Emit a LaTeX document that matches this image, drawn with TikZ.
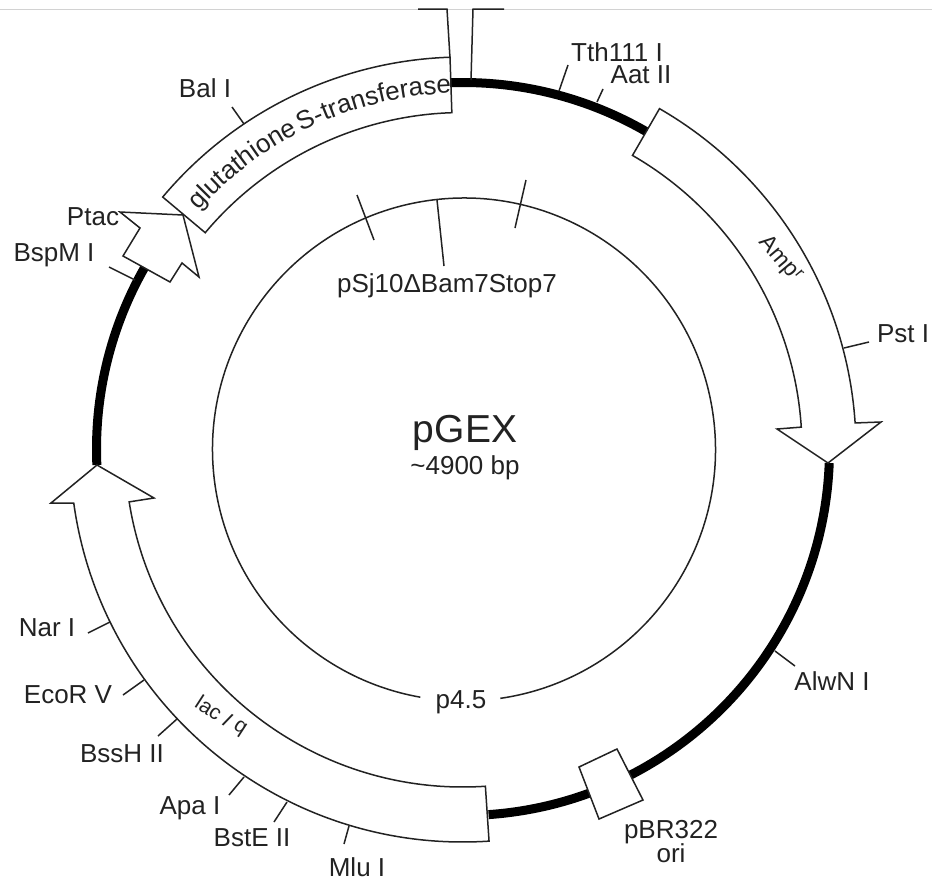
\documentclass[tikz,border=0pt]{standalone}
\usepackage{fontspec}
\setmainfont{Liberation Sans}
\newfontfamily\gstfont[WordSpace=0.45]{Liberation Sans}
\usetikzlibrary{decorations.text}
\definecolor{ink}{HTML}{222222}
\tikzset{
  x=1pt,y=1pt,
  thin line/.style={line width=1.5pt,draw=ink},
  backbone/.style={line width=9pt,draw=black},
  feature/.style={line width=1.5pt,draw=ink,fill=white,line join=miter},
  lbl/.style={inner sep=0pt,text=ink,font=\fontsize{26}{29}\selectfont,align=center},
}
\newcommand{\sitetick}[3]{\coordinate (#1a) at #2; \coordinate (#1b) at #3; \draw[thin line] (#1a) -- (#1b);}
\begin{document}
\begin{tikzpicture}
\useasboundingbox (0,0) rectangle (932,-881);
\fill[white] (0,0) rectangle (932,-881);
\draw[line width=0.8pt,draw=gray!35] (0,-9) -- (932,-9);

% inner circle
\begin{scope}[shift={(464,-449.5)}]
\draw[thin line] (278.3:251.5) arc[start angle=278.3,end angle=620,radius=251.5];
\end{scope}

\begin{scope}[shift={(463,-449)}]
% backbone
\draw[backbone] (91.9:366.5) arc[start angle=91.9,end angle=60,radius=366.5];
\draw[backbone] (-2.2:366.5) arc[start angle=-2.2,end angle=-86,radius=366.5];
\draw[backbone] (182.5:366.5) arc[start angle=182.5,end angle=150.3,radius=366.5];
% GST
\draw[feature] (91.9:392) arc[start angle=91.9,end angle=140,radius=392]
  -- (140:336.5) arc[start angle=140,end angle=91.9,radius=336.5] -- cycle;
% Amp
\draw[feature] (60:393) arc[start angle=60,end angle=3.8,radius=393]
  -- (881-463,-422+449) coordinate (ampb1) -- (828-463,-463+449) coordinate (amptip) -- (777-463,-429+449) coordinate (ampb2)
  -- (3.7:339) arc[start angle=3.7,end angle=60,radius=339] -- cycle;
% lacI
\draw[feature] (-86.2:393) arc[start angle=-86.2,end angle=-172.1,radius=393]
  -- (51-463,-503+449) -- (97-463,-465+449) -- (154-463,-498+449)
  -- (-171:338) arc[start angle=-171,end angle=-86.2,radius=338] -- cycle;
% GST label
\path[postaction={decorate,decoration={text along path,
  text={|\gstfont\fontsize{26}{29}\selectfont\color{ink}|glutathione S-transferase},text align=left}}]
  (138:356) arc[start angle=138,end angle=90,radius=356];
\end{scope}

% ori box
\draw[feature] (579,-767) -- (617,-749) -- (643,-800) -- (599,-819) -- cycle;
% Ptac arrow
\draw[feature] (183,-215) -- (120,-212) -- (140,-228) -- (123,-256) -- (170,-282) -- (182,-263) -- (199,-277) -- cycle;

% top brackets
\coordinate (tl0) at (418,-9); \coordinate (tl1) at (447,-9); \coordinate (tl2) at (450,-58);
\coordinate (tr0) at (504,-9); \coordinate (tr1) at (473,-9); \coordinate (tr2) at (471,-80);
\draw[thin line] (tl0) -- (tl1) -- (tl2);
\draw[thin line] (tr0) -- (tr1) -- (tr2);

% site ticks
\sitetick{bal}{(244,-124)}{(232,-107)}
\sitetick{tth}{(559,-91)}{(568,-65)}
\sitetick{aat}{(597,-102)}{(603,-89)}
\sitetick{pst}{(844,-348)}{(869,-342)}
\sitetick{alw}{(775,-651)}{(795,-666)}
\sitetick{nar}{(110,-622)}{(88,-633)}
\sitetick{eco}{(144,-680)}{(123,-695)}
\sitetick{bss}{(177,-719)}{(158,-736)}
\sitetick{apa}{(244,-777)}{(229,-795)}
\sitetick{bst}{(287,-802)}{(274,-822)}
\sitetick{mlu}{(349,-826)}{(344,-844)}
\sitetick{bsp}{(135,-280)}{(109,-267)}
\sitetick{ia}{(357,-195)}{(374,-240)}
\sitetick{ib}{(437,-200)}{(444,-266)}
\sitetick{ic}{(526,-180)}{(515,-228)}

% labels
\node[lbl] (Lbal) at (205,-88) {Bal I};
\node[lbl] (Ltth) at (617,-52) {Tth111 I};
\node[lbl] (Laat) at (641,-75) {Aat II};
\node[lbl] (Lpst) at (903,-334) {Pst I};
\node[lbl] (Lalw) at (832,-681) {AlwN I};
\node[lbl] (Lpbr) at (671,-832) {pBR322};
\node[lbl] (Lori) at (671,-853) {ori};
\node[lbl] (Lnar) at (47,-628) {Nar I};
\node[lbl] (Leco) at (68,-695) {EcoR V};
\node[lbl] (Lbss) at (122,-754) {BssH II};
\node[lbl] (Lapa) at (190,-808) {Apa I};
\node[lbl] (Lbst) at (252,-838) {BstE II};
\node[lbl] (Lmlu) at (357,-867) {Mlu I};
\node[lbl] (Lbsp) at (54,-255) {BspM I};
\node[lbl] (Lptac) at (93,-217) {Ptac};
\node[lbl] (Lpsj) at (447,-286) {pSj10ΔBam7Stop7};
\node[lbl] (Lp45) at (461,-702) {p4.5};
\node[lbl,font=\fontsize{39}{44}\selectfont] (Lgex) at (465,-433) {pGEX};
\node[lbl] (Lbp) at (465,-468) {\textasciitilde 4900 bp};
\node[lbl,font=\fontsize{23}{26}\selectfont,rotate=-50] (Lamp) at (780,-259) {Amp\raisebox{7pt}{\fontsize{16}{16}\selectfont r}};
\node[lbl,font=\fontsize{21}{24}\selectfont,rotate=-33] (Llac) at (221,-716) {lac \textit{I} \raisebox{3pt}{q}};
\end{tikzpicture}
\end{document}
